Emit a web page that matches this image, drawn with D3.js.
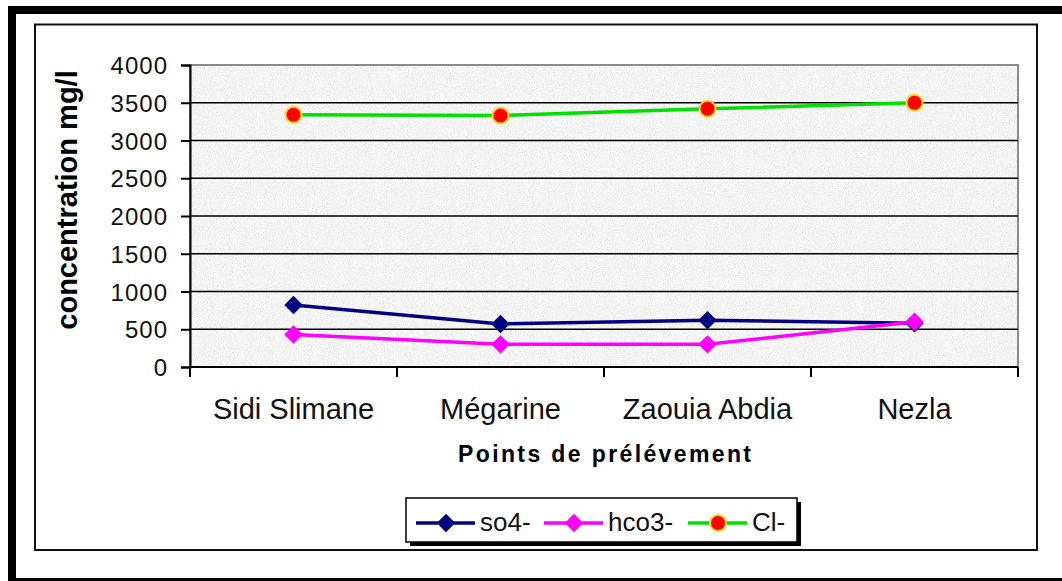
<!DOCTYPE html>
<html>
<head>
<meta charset="utf-8">
<script src="https://cdn.jsdelivr.net/npm/d3@7"></script>
<style>
  body { margin: 0; background: #fff; }
  svg { display: block; font-family: "Liberation Sans", Arial, sans-serif; }
</style>
</head>
<body>
<svg id="chart" width="1062" height="581"></svg>
<script>
var categories = ["Sidi Slimane", "Mégarine", "Zaouia Abdia", "Nezla"];
var so4 = [820, 570, 620, 580];
var hco3 = [430, 300, 300, 600];
var cl = [3340, 3330, 3420, 3500];
var yTicks = [0, 500, 1000, 1500, 2000, 2500, 3000, 3500, 4000];

var series = [
  {name: "so4-", values: so4, color: "#000080", marker: "diamond"},
  {name: "hco3-", values: hco3, color: "#ff00ff", marker: "diamond"},
  {name: "Cl-", values: cl, color: "#00e000", marker: "circle"}
];

var svg = d3.select("svg#chart"),
    plot = {left: 190, right: 1018, top: 65, bottom: 367};

var defs = svg.append("defs");
var f = defs.append("filter").attr("id", "granite")
    .attr("x", 0).attr("y", 0).attr("width", 1).attr("height", 1);
f.append("feTurbulence").attr("type", "fractalNoise")
    .attr("baseFrequency", 0.95).attr("numOctaves", 2).attr("seed", 4);
f.append("feColorMatrix").attr("type", "matrix")
    .attr("values", "0.5 0 0 0 0.66  0.5 0 0 0 0.66  0.5 0 0 0 0.66  0 0 0 0 1");

// outer frame and inner frame
svg.append("rect").attr("x", 12).attr("y", 10).attr("width", 1100).attr("height", 572)
    .attr("fill", "none").attr("stroke", "#000").attr("stroke-width", 8);
svg.append("rect").attr("x", 35).attr("y", 24.5).attr("width", 1002).attr("height", 525.5)
    .attr("fill", "#fff").attr("stroke", "#111").attr("stroke-width", 2);

var x = d3.scaleBand()
    .domain(categories)
    .range([plot.left, plot.right])
    .padding(0);

var y = d3.scaleLinear()
    .domain([0, 4000])
    .range([plot.bottom, plot.top]);

// plot background
svg.append("rect")
    .attr("x", plot.left).attr("y", plot.top)
    .attr("width", plot.right - plot.left).attr("height", plot.bottom - plot.top)
    .attr("filter", "url(#granite)");
svg.append("rect")
    .attr("x", plot.left).attr("y", plot.top)
    .attr("width", plot.right - plot.left).attr("height", plot.bottom - plot.top)
    .attr("fill", "none").attr("stroke", "#8a8a8a").attr("stroke-width", 2);

// gridlines
svg.append("g").selectAll("line")
  .data(yTicks.filter(function(d) { return d > 0 && d < 4000; }))
  .enter().append("line")
    .attr("x1", plot.left).attr("x2", plot.right)
    .attr("y1", function(d) { return y(d); })
    .attr("y2", function(d) { return y(d); })
    .attr("stroke", "#000").attr("stroke-width", 1.6);

// y axis
var yAxis = svg.append("g")
    .attr("transform", "translate(" + plot.left + ",0)")
    .call(d3.axisLeft(y).tickValues(yTicks).tickFormat(d3.format("d")).tickSize(9).tickPadding(13));
yAxis.select(".domain").attr("stroke", "#000").attr("stroke-width", 2);
yAxis.selectAll(".tick line").attr("stroke", "#000").attr("stroke-width", 2);
yAxis.selectAll(".tick text")
    .attr("font-size", 24).attr("letter-spacing", 1).attr("fill", "#111")
    .attr("font-family", "Liberation Sans, Arial, sans-serif")
    .attr("dy", "0.36em");

// x axis
var xAxis = svg.append("g");
xAxis.append("line")
    .attr("x1", plot.left).attr("x2", plot.right)
    .attr("y1", plot.bottom).attr("y2", plot.bottom)
    .attr("stroke", "#000").attr("stroke-width", 2);
var bounds = categories.map(function(c) { return x(c); }).concat([x.range()[1]]);
xAxis.selectAll("line.tk")
  .data(bounds)
  .enter().append("line").attr("class", "tk")
    .attr("x1", function(d) { return d; }).attr("x2", function(d) { return d; })
    .attr("y1", plot.bottom).attr("y2", plot.bottom + 10)
    .attr("stroke", "#000").attr("stroke-width", 2);
xAxis.selectAll("text")
  .data(categories)
  .enter().append("text")
    .attr("x", function(d) { return x(d) + x.bandwidth() / 2; })
    .attr("y", 419)
    .attr("text-anchor", "middle")
    .attr("font-size", 29)
    .attr("fill", "#111")
    .text(function(d) { return d; });

// axis titles
svg.append("text")
    .attr("x", 604.5).attr("y", 462)
    .attr("text-anchor", "middle")
    .attr("font-size", 23).attr("font-weight", "bold")
    .attr("textLength", 293).attr("lengthAdjust", "spacing")
    .text("Points de prélévement");

svg.append("text")
    .attr("transform", "translate(77,200) rotate(-90)")
    .attr("text-anchor", "middle")
    .attr("font-size", 29).attr("font-weight", "bold")
    .text("concentration mg/l");

// lines and markers
var line = d3.line()
    .x(function(d, i) { return x(categories[i]) + x.bandwidth() / 2; })
    .y(function(d) { return y(d); });

function drawMarker(g, s, cx, cy) {
  if (s.marker === "diamond") {
    g.append("path")
      .attr("d", d3.symbol().type(d3.symbolSquare).size(170)())
      .attr("transform", "translate(" + cx + "," + cy + ") rotate(45)")
      .attr("fill", s.color);
  } else {
    g.append("circle")
      .attr("cx", cx).attr("cy", cy).attr("r", 8)
      .attr("fill", "#ff0000").attr("stroke", "#ffd21a").attr("stroke-width", 2);
  }
}

series.forEach(function(s) {
  var g = svg.append("g");
  g.append("path")
    .datum(s.values)
    .attr("d", line)
    .attr("fill", "none")
    .attr("stroke", s.color)
    .attr("stroke-width", 3.5);
  s.values.forEach(function(v, i) {
    drawMarker(g, s, x(categories[i]) + x.bandwidth() / 2, y(v));
  });
});

// legend
var lg = svg.append("g");
lg.append("rect").attr("x", 410).attr("y", 502).attr("width", 391).attr("height", 44).attr("fill", "#000");
lg.append("rect").attr("x", 406).attr("y", 498).attr("width", 391).attr("height", 44)
    .attr("fill", "#fff").attr("stroke", "#000").attr("stroke-width", 1.5);
var legendX = [416, 544, 688];
series.forEach(function(s, i) {
  var lx = legendX[i], ly = 523;
  lg.append("line")
    .attr("x1", lx).attr("x2", lx + 59)
    .attr("y1", ly).attr("y2", ly)
    .attr("stroke", s.color).attr("stroke-width", 3.5);
  drawMarker(lg, s, lx + 30, ly);
  lg.append("text")
    .attr("x", lx + 64).attr("y", 531)
    .attr("font-size", 26).attr("fill", "#111")
    .text(s.name);
});
</script>
</body>
</html>
